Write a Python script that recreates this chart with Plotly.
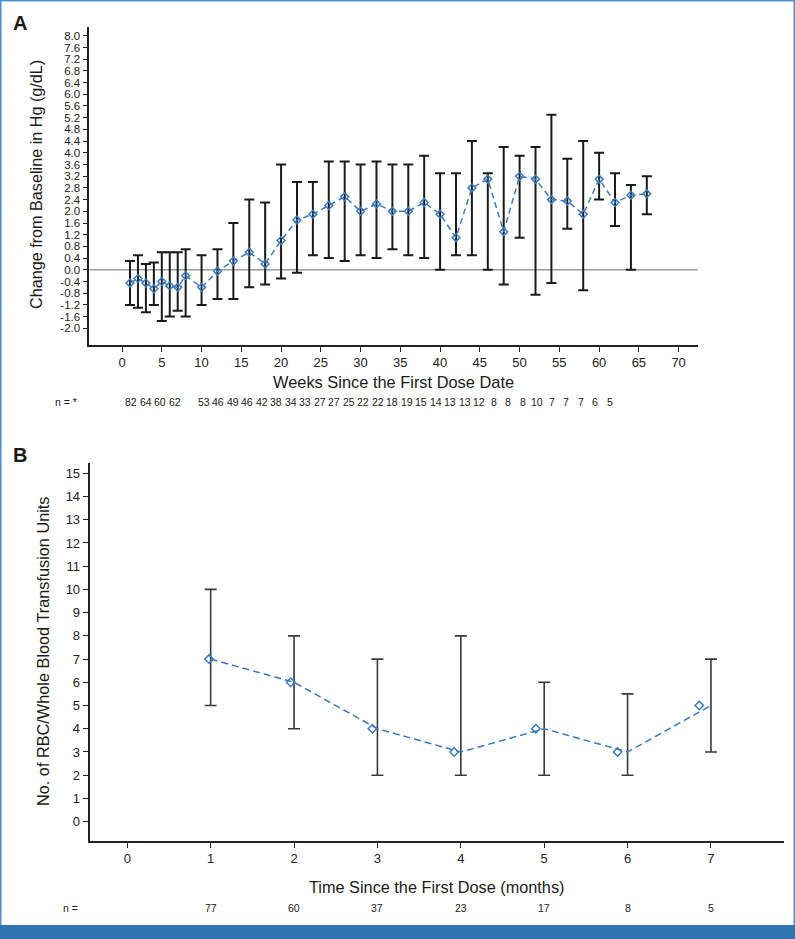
import plotly.graph_objects as go

# ---------------- Data: Panel A ----------------
weeks = [1, 2, 3, 4, 5, 6, 7, 8, 10, 12, 14, 16, 18, 20, 22, 24, 26, 28, 30, 32, 34,
         36, 38, 40, 42, 44, 46, 48, 50, 52, 54, 56, 58, 60, 62, 64, 66]
hb_mean = [-0.45, -0.3, -0.45, -0.65, -0.4, -0.55, -0.6, -0.2, -0.6, -0.05, 0.3, 0.6,
           0.2, 1.0, 1.7, 1.9, 2.2, 2.5, 2.0, 2.25, 2.0, 2.0, 2.3, 1.9, 1.1, 2.8, 3.1,
           1.3, 3.2, 3.1, 2.4, 2.35, 1.9, 3.1, 2.3, 2.55, 2.6]
hb_upper = [0.3, 0.5, 0.2, 0.25, 0.6, 0.6, 0.6, 0.7, 0.5, 0.7, 1.6, 2.4, 2.3, 3.6,
            3.0, 3.0, 3.7, 3.7, 3.6, 3.7, 3.6, 3.6, 3.9, 3.3, 3.3, 4.4, 3.3, 4.2, 3.9,
            4.2, 5.3, 3.8, 4.4, 4.0, 3.3, 2.9, 3.2]
hb_lower = [-1.2, -1.3, -1.45, -1.2, -1.75, -1.6, -1.4, -1.6, -1.2, -1.0, -1.0, -0.6,
            -0.5, -0.3, -0.1, 0.5, 0.4, 0.3, 0.5, 0.4, 0.7, 0.5, 0.4, 0.0, 0.5, 0.5,
            0.0, -0.5, 1.1, -0.85, -0.45, 1.4, -0.7, 2.4, 1.5, 0.0, 1.9]
n_weeks = ["82", "64", "60", "62", "", "53", "46", "49", "46", "42", "38", "34", "33",
           "27", "27", "25", "22", "22", "18", "19", "15", "14", "13", "13", "12", "8",
           "8", "8", "10", "7", "7", "7", "6", "5"]
a_yticks = [-2.0, -1.6, -1.2, -0.8, -0.4, 0.0, 0.4, 0.8, 1.2, 1.6, 2.0, 2.4, 2.8, 3.2,
            3.6, 4.0, 4.4, 4.8, 5.2, 5.6, 6.0, 6.4, 6.8, 7.2, 7.6, 8.0]
a_xticks = [0, 5, 10, 15, 20, 25, 30, 35, 40, 45, 50, 55, 60, 65, 70]

# ---------------- Data: Panel B ----------------
months = [1, 2, 3, 4, 5, 6, 7]
units_median = [7, 6, 4, 3, 4, 3, 5]
units_upper = [10, 8, 7, 8, 6, 5.5, 7]
units_lower = [5, 4, 2, 2, 2, 2, 3]
n_months = ["77", "60", "37", "23", "17", "8", "5"]
b_yticks = list(range(0, 16))
b_xticks = [0, 1, 2, 3, 4, 5, 6, 7]

W, H = 795, 939
FONT = "Liberation Sans, Arial, Helvetica, sans-serif"
BLUE = "#3a7bbf"
AXC = "#222222"

def px(x):
    return x / W

def py(y):
    return 1 - y / H

fig = go.Figure()

# Panel A
fig.add_trace(go.Scatter(
    x=weeks, y=hb_mean, mode="lines+markers",
    line=dict(color=BLUE, width=1.5, dash="6px,4px"),
    marker=dict(symbol="diamond-open", size=6, color=BLUE, line=dict(width=1.5, color=BLUE)),
    error_y=dict(type="data", symmetric=False,
                 array=[u - m for u, m in zip(hb_upper, hb_mean)],
                 arrayminus=[m - l for m, l in zip(hb_mean, hb_lower)],
                 color="#1a1a1a", thickness=2, width=5),
    xaxis="x", yaxis="y", showlegend=False, hoverinfo="skip"))

# Panel B: line + error bars at month positions
fig.add_trace(go.Scatter(
    x=months, y=units_median, mode="lines",
    line=dict(color=BLUE, width=1.5, dash="7px,4px"),
    error_y=dict(type="data", symmetric=False,
                 array=[u - m for u, m in zip(units_upper, units_median)],
                 arrayminus=[m - l for m, l in zip(units_median, units_lower)],
                 color="#3a3a3a", thickness=1.6, width=6),
    xaxis="x2", yaxis="y2", showlegend=False, hoverinfo="skip"))
# diamonds drawn slightly left of the bars, as in the source
fig.add_trace(go.Scatter(
    x=[m * 0.98 for m in months], y=units_median, mode="markers",
    marker=dict(symbol="diamond-open", size=6.5, color=BLUE, line=dict(width=1.5, color=BLUE)),
    xaxis="x2", yaxis="y2", showlegend=False, hoverinfo="skip"))

axis_common = dict(showline=True, linecolor=AXC, linewidth=1.6, ticks="outside",
                   ticklen=5, tickwidth=1.3, tickcolor=AXC, showgrid=False,
                   zeroline=False, tickfont=dict(family=FONT, size=13, color=AXC))

fig.update_layout(
    width=W, height=H, margin=dict(l=0, r=0, t=0, b=0),
    paper_bgcolor="white", plot_bgcolor="white",
    xaxis=dict(domain=[px(89.3), px(697.7)], range=[-4.12, 72.4], anchor="y",
               tickvals=a_xticks, **axis_common),
    yaxis=dict(domain=[py(345), py(26.7)], range=[-2.57, 8.31], anchor="x",
               tickvals=a_yticks, ticktext=[f"{v:.1f}" for v in a_yticks], **axis_common),
    xaxis2=dict(domain=[px(89.5), px(783.5)], range=[-0.453, 7.87], anchor="y2",
                tickvals=b_xticks, **axis_common),
    yaxis2=dict(domain=[py(840.7), py(463.3)], range=[-0.82, 15.43], anchor="x2",
                tickvals=b_yticks, **axis_common),
)
fig.update_layout(yaxis_tickfont=dict(family=FONT, size=11.5, color=AXC))

shapes = [
    # zero reference line panel A
    dict(type="line", xref="x domain", yref="y", x0=0, x1=1, y0=0, y1=0,
         line=dict(color="#9a9a9a", width=1.5), layer="below"),
    # frame
    dict(type="rect", xref="paper", yref="paper", x0=0, x1=1, y0=0, y1=1,
         line=dict(color="#4f8fcf", width=3), fillcolor="rgba(0,0,0,0)"),
    dict(type="rect", xref="paper", yref="paper", x0=0, x1=1, y0=0, y1=py(925),
         line=dict(width=0), fillcolor="#2f73b0"),
]
fig.update_layout(shapes=shapes)

ann = []
def text(x, y, t, size, bold=False, angle=0, xanchor="center"):
    ann.append(dict(xref="paper", yref="paper", x=px(x), y=py(y), text=(f"<b>{t}</b>" if bold else t),
                    showarrow=False, textangle=angle, xanchor=xanchor, yanchor="middle",
                    font=dict(family=FONT, size=size, color="#1a1a1a")))

text(20, 23, "A", 20, bold=True)
text(20, 455, "B", 20, bold=True)
text(36, 185, "Change from Baseline in Hg (g/dL)", 16.2, angle=-90)
text(393.5, 382, "Weeks Since the First Dose Date", 16.4)
text(42.5, 651.5, "No. of RBC/Whole Blood Transfusion Units", 16.3, angle=-90)
text(436.5, 886.5, "Time Since the First Dose (months)", 16.3)
text(65.5, 402, "n = *", 10.5)
text(70, 908, "n =", 10.5)
for i, lab in enumerate(n_weeks):
    if lab:
        text(131 + i * 14.5, 402, lab, 10.5)
for m, lab in zip(months, n_months):
    ann.append(dict(xref="x2", yref="paper", x=m, y=py(908), text=lab, showarrow=False,
                    xanchor="center", yanchor="middle",
                    font=dict(family=FONT, size=10.5, color="#1a1a1a")))
fig.update_layout(annotations=ann)

fig.write_html("out.html", config={"displayModeBar": False},
               post_script="document.body.style.margin='0';document.body.style.overflow='hidden';")
